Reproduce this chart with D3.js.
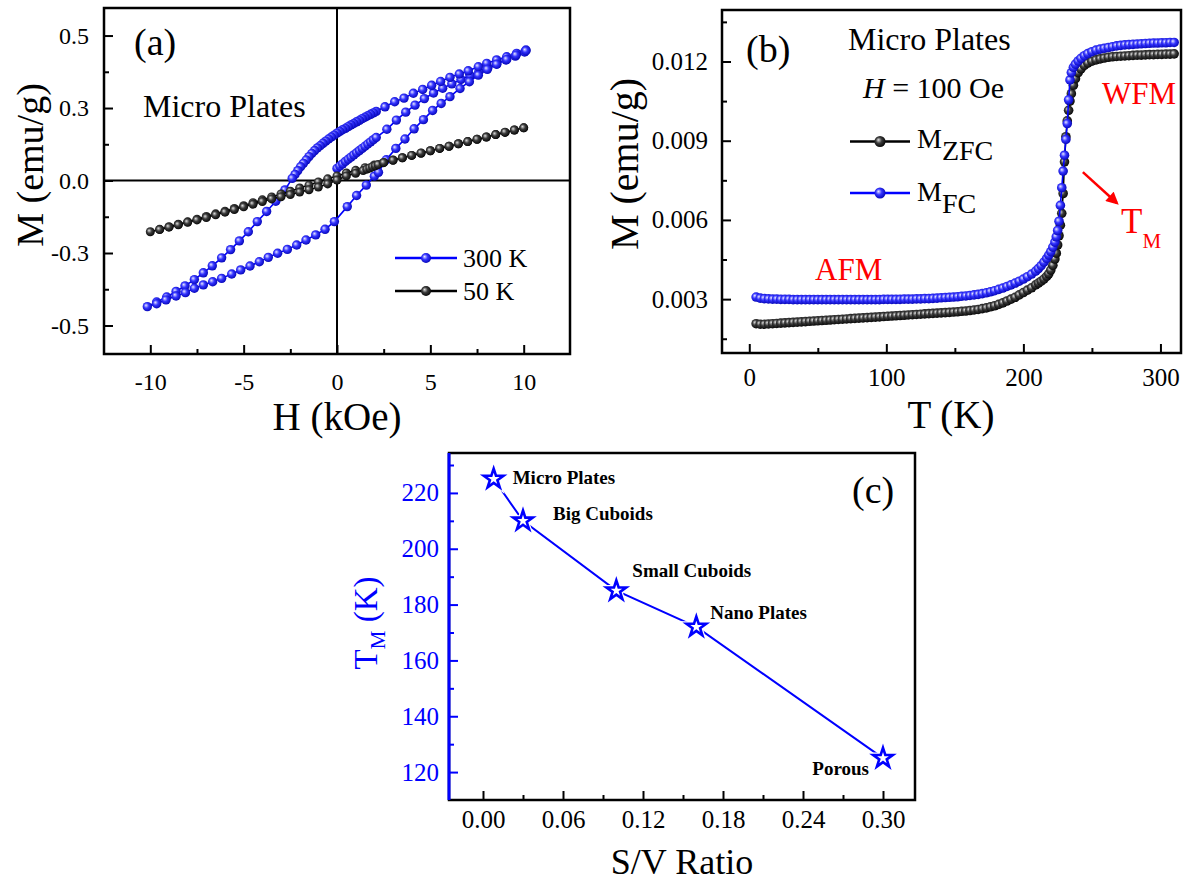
<!DOCTYPE html>
<html>
<head>
<meta charset="utf-8">
<script src="https://d3js.org/d3.v7.min.js"></script>
<style>
  body { margin: 0; background: white; }
  text { font-family: "Liberation Serif", "Times New Roman", serif; }
</style>
</head>
<body>
<div id="fig"></div>
<script>
// ---------- panel (a): M-H loops, micro plates ----------
// 300 K, measured 0 -> +10 kOe, then +10 -> -10, then -10 -> +10   [H kOe, M emu/g]
var loop300Initial = [[0.0,0.050],[0.15,0.060],[0.3,0.069],[0.45,0.079],[0.6,0.088],[0.75,0.097],[0.9,0.106],
  [1.05,0.115],[1.2,0.124],[1.35,0.133],[1.5,0.142],[1.65,0.151],[1.8,0.160],[1.95,0.169],[2.1,0.178],
  [2.67,0.212],[3.18,0.250],[3.68,0.283],[4.18,0.312],[4.68,0.339],[5.17,0.362],[5.66,0.382],[6.15,0.400],
  [6.64,0.418],[7.12,0.435],[7.6,0.451],[8.08,0.467],[8.56,0.483],[9.05,0.499],[9.55,0.515],[10.05,0.532]];
var loop300Down = [[10.12,0.540],[9.62,0.526],[9.09,0.512],[8.55,0.499],[8.02,0.485],[7.57,0.471],[7.03,0.454],
  [6.55,0.441],[6.05,0.427],[5.55,0.410],[5.07,0.394],[4.59,0.377],[4.09,0.361],[3.59,0.341],[3.09,0.326],[2.57,0.305],
  [2.1,0.286],[1.95,0.280],[1.8,0.274],[1.65,0.268],[1.5,0.262],[1.35,0.256],[1.2,0.249],[1.05,0.243],[0.9,0.236],
  [0.75,0.230],[0.6,0.223],[0.45,0.216],[0.3,0.210],[0.15,0.203],[0.0,0.196],[-0.15,0.188],[-0.3,0.180],[-0.45,0.172],
  [-0.6,0.163],[-0.75,0.154],[-0.9,0.144],[-1.05,0.135],[-1.2,0.124],[-1.35,0.112],[-1.5,0.099],[-1.65,0.085],
  [-1.8,0.071],[-1.95,0.057],[-2.1,0.041],[-2.25,0.025],[-2.4,0.009],
  [-2.79,-0.039],[-3.28,-0.086],[-3.77,-0.128],[-4.27,-0.170],[-4.75,-0.212],[-5.23,-0.250],[-5.70,-0.286],
  [-6.18,-0.320],[-6.68,-0.353],[-7.16,-0.382],[-7.64,-0.410],[-8.14,-0.436],[-8.62,-0.459],[-9.12,-0.482],
  [-9.66,-0.503],[-10.16,-0.522]];
var loop300Up = [[-9.66,-0.510],[-9.16,-0.494],[-8.62,-0.478],[-8.12,-0.464],[-7.64,-0.446],[-7.16,-0.432],
  [-6.66,-0.419],[-6.18,-0.405],[-5.64,-0.387],[-5.16,-0.370],[-4.66,-0.354],[-4.16,-0.336],[-3.68,-0.318],
  [-3.18,-0.301],[-2.66,-0.285],[-2.16,-0.267],[-1.66,-0.246],[-1.14,-0.225],[-0.64,-0.202],[-0.14,-0.170],
  [0.55,-0.108],[1.05,-0.062],[1.57,-0.019],[2.0,0.018],[2.22,0.034],[2.64,0.086],[3.15,0.133],[3.64,0.172],
  [4.13,0.214],[4.63,0.252],[5.12,0.290],[5.58,0.319],[6.05,0.347],[6.59,0.381],[7.09,0.409],[7.57,0.436],
  [8.05,0.460],[8.55,0.481],[9.09,0.501],[9.59,0.519],[10.12,0.537]];
// 50 K
var loop50Down = [[10,0.218],[9.5,0.209],[9,0.199],[8.5,0.190],[8,0.180],[7.5,0.171],[7,0.161],[6.5,0.152],[6,0.142],
  [5.5,0.133],[5,0.123],[4.5,0.113],[4,0.104],[3.5,0.094],[3,0.085],[2.5,0.075],[2,0.064],[1.5,0.053],[1,0.042],
  [0.5,0.031],[0,0.019],[-0.5,0.007],[-1,-0.006],[-1.5,-0.019],[-2,-0.031],[-2.5,-0.044],[-3,-0.056],[-3.5,-0.068],
  [-4,-0.080],[-4.5,-0.092],[-5,-0.104],[-5.5,-0.116],[-6,-0.127],[-6.5,-0.138],[-7,-0.149],[-7.5,-0.160],
  [-8,-0.171],[-8.5,-0.181],[-9,-0.191],[-9.5,-0.202],[-10,-0.212]];
var loop50Up = [[-9.5,-0.203],[-9,-0.193],[-8.5,-0.183],[-8,-0.173],[-7.5,-0.163],[-7,-0.153],[-6.5,-0.142],
  [-6,-0.131],[-5.5,-0.120],[-5,-0.109],[-4.5,-0.098],[-4,-0.087],[-3.5,-0.076],[-3,-0.067],[-2.5,-0.058],
  [-2,-0.048],[-1.5,-0.038],[-1,-0.027],[-0.5,-0.014],[0,0.002],[0.5,0.019],[1,0.030],[1.4,0.041],[1.6,0.047],
  [1.75,0.052],[1.9,0.057],[2.05,0.061],[2.2,0.066],[2.5,0.074],[3,0.084],[3.5,0.094],[4,0.104],[4.5,0.114],
  [5,0.123],[5.5,0.133],[6,0.142],[6.5,0.152],[7,0.161],[7.5,0.171],[8,0.180],[8.5,0.190],[9,0.200],[9.5,0.209],[10,0.218]];
var hTicksA = [-10, -5, 0, 5, 10];
var hMinorA = [-7.5, -2.5, 2.5, 7.5];
var mTicksA = [-0.6, -0.3, 0, 0.3, 0.6];
var mTickLabelsA = ["-0.5", "-0.3", "0.0", "0.3", "0.5"];
var mMinorA = [-0.45, -0.15, 0.15, 0.45];

// ---------- panel (b): M-T, H = 100 Oe ----------   [T K, M emu/g]
var zfcData = [[5,.00207],[8,.00205],[11,.00205],[14,.00206],[17,.00207],[20,.00208],[23,.00209],[26,.00210],
  [29,.00211],[32,.00212],[35,.00213],[38,.00214],[41,.00215],[44,.00216],[47,.00217],[50,.00218],[53,.00219],
  [56,.00220],[59,.00221],[62,.00222],[65,.00223],[68,.00224],[71,.00225],[74,.00226],[77,.00227],[80,.00228],
  [83,.00229],[86,.00230],[89,.00231],[92,.00232],[95,.00233],[98,.00234],[101,.00235],[104,.00236],[107,.00237],
  [110,.00238],[113,.00239],[116,.00240],[119,.00241],[122,.00242],[125,.00243],[128,.00244],[131,.00245],
  [134,.00246],[137,.00247],[140,.00248],[143,.00249],[146,.00250],[149,.00251],[152,.00252],[155,.00254],
  [158,.00255],[161,.00257],[164,.00259],[167,.00261],[170,.00264],[173,.00267],[176,.00271],[179,.00275],
  [182,.00280],[185,.00286],[188,.00293],[191,.00300],[194,.00307],[197,.00316],[200,.00325],[203,.00334],
  [206,.00343],[209,.00354],
  [211,.00361],[213,.00368],[215,.00376],[217,.00386],[218.5,.00396],[220,.00410],[221.5,.00428],[223,.00452],
  [224,.00474],[225,.00505],[226,.00540],[227,.00580],[228,.00625],[229,.00700],[230,.00820],[231,.00915],
  [232,.00975],[233,.01015],[234,.01050],[235,.01078],[236.5,.01110],[238,.01135],[240,.01158],[242,.01172],
  [244.5,.01185],[247,.01194],[250,.01201],[253,.01206],
  [256,.01210],[259,.01213],[262,.01216],[265,.01218],[268,.01219],[271,.01220],[274,.01221],[277,.01222],
  [280,.01223],[283,.01224],[286,.01224],[289,.01225],[292,.01226],[295,.01226],[298,.01227],[301,.01227],
  [304,.01228],[307,.01228],[310,.01229]];
var fcData = [[5,.00308],[8,.00304],[11,.00302],[14,.00301],[17,.00300],[20,.00300],[23,.00299],[26,.00299],
  [29,.00299],[32,.00298],[35,.00298],[38,.00298],[41,.00298],[44,.00298],[47,.00298],[50,.00298],[53,.00298],
  [56,.00298],[59,.00298],[62,.00298],[65,.00298],[68,.00298],[71,.00298],[74,.00298],[77,.00298],[80,.00298],
  [83,.00298],[86,.00298],[89,.00298],[92,.00298],[95,.00298],[98,.00299],[101,.00299],[104,.00299],[107,.00299],
  [110,.00299],[113,.00300],[116,.00300],[119,.00300],[122,.00301],[125,.00301],[128,.00302],[131,.00302],
  [134,.00303],[137,.00304],[140,.00305],[143,.00306],[146,.00307],[149,.00308],[152,.00309],[155,.00311],
  [158,.00312],[161,.00314],[164,.00316],[167,.00318],[170,.00321],[173,.00324],[176,.00328],[179,.00332],
  [182,.00337],[185,.00342],[188,.00348],[191,.00354],[194,.00361],[197,.00368],[200,.00376],[203,.00385],
  [206,.00395],[209,.00406],
  [211,.00416],[213,.00427],[215,.00440],[217,.00454],[218.5,.00467],[220,.00480],[221.5,.00497],[223,.00516],
  [224,.00536],[225,.00560],[226,.00595],[227,.00655],[228,.00722],[229,.00785],[230,.00845],[231,.00905],
  [232,.00965],[233,.01055],[234,.01130],[235,.01158],[236.5,.01178],[238,.01190],[240,.01202],[242,.01212],
  [244.5,.01222],[247,.01230],[250,.01237],[253,.01243],
  [256,.01247],[259,.01250],[262,.01253],[265,.01256],[268,.01259],[271,.01261],[274,.01263],[277,.01264],
  [280,.01265],[283,.01266],[286,.01267],[289,.01268],[292,.01269],[295,.01270],[298,.01270],[301,.01271],
  [304,.01271],[307,.01272],[310,.01272]];
var tTicksB = [0, 100, 200, 300];
var tMinorB = [50, 150, 250];
var mTicksB = [0.003, 0.006, 0.009, 0.012];
var mMinorB = [0.0015, 0.0045, 0.0075, 0.0105, 0.0135];

// ---------- panel (c): transition temperature vs S/V ratio ----------
var shapes = ["Micro Plates", "Big Cuboids", "Small Cuboids", "Nano Plates", "Porous"];
var svRatio = [0.008, 0.03, 0.10, 0.16, 0.30];
var transT = [225, 210, 185, 172, 125];
var svTicks = [0, 0.06, 0.12, 0.18, 0.24, 0.30];
var svMinor = [0.03, 0.09, 0.15, 0.21, 0.27];
var tmTicks = [120, 140, 160, 180, 200, 220];
var tmMinor = [130, 150, 170, 190, 210, 230];

// label offsets for panel (c), pixels from each star
var labelShift = [[19, 5, "start"], [30, -1, "start"], [16, -14, "start"], [14, -8, "start"], [-14, 17, "end"]];

var BLUE = "#0000ff", RED = "#ff0000";
var font = '"Liberation Serif", "Times New Roman", serif';
var plain = function(d) { return String(d); };   // hyphen minus, like the original

var svg = d3.select("#fig").append("svg")
    .attr("width", 1184)
    .attr("height", 881)
    .style("display", "block")
    .style("background", "white");

var defs = svg.append("defs");
function ball(id, light, mid, dark) {
  var g = defs.append("radialGradient").attr("id", id)
      .attr("cx", "45%").attr("cy", "45%").attr("r", "60%")
      .attr("fx", "35%").attr("fy", "35%");
  g.append("stop").attr("offset", "0%").attr("stop-color", light);
  g.append("stop").attr("offset", "45%").attr("stop-color", mid);
  g.append("stop").attr("offset", "100%").attr("stop-color", dark);
}
ball("ballBlue", "#e8e8ff", "#3535ff", "#0000b0");
ball("ballBlack", "#e0e0e0", "#3c3c3c", "#000000");

defs.append("marker").attr("id", "arrowRed")
    .attr("viewBox", "0 0 10 10").attr("refX", 8).attr("refY", 5)
    .attr("markerWidth", 5.5).attr("markerHeight", 5).attr("orient", "auto")
  .append("path").attr("d", "M0,0 L10,5 L0,10 z").attr("fill", RED);

// small helpers
function styleAxis(g, size, color) {
  g.select(".domain").remove();
  g.selectAll("line").attr("stroke", color || "black").attr("stroke-width", 2);
  g.selectAll("text").attr("font-family", font).attr("font-size", size).attr("fill", color || "black");
}
function frame(x0, y0, x1, y1) {
  svg.append("rect").attr("x", x0).attr("y", y0).attr("width", x1 - x0).attr("height", y1 - y0)
    .attr("fill", "none").attr("stroke", "black").attr("stroke-width", 2.5);
}
function drawSeries(data, x, y, stroke, fill, r) {
  var line = d3.line().x(function(d) { return x(d[0]); }).y(function(d) { return y(d[1]); });
  svg.append("path").datum(data).attr("d", line)
    .attr("fill", "none").attr("stroke", stroke).attr("stroke-width", 1.6);
  svg.append("g").selectAll("circle").data(data).enter().append("circle")
    .attr("cx", function(d) { return x(d[0]); })
    .attr("cy", function(d) { return y(d[1]); })
    .attr("r", r)
    .attr("fill", fill);
}
function legendItem(x0, x1, yy, stroke, fill, r) {
  svg.append("line").attr("x1", x0).attr("x2", x1).attr("y1", yy).attr("y2", yy)
    .attr("stroke", stroke).attr("stroke-width", 2.5);
  svg.append("circle").attr("cx", (x0 + x1) / 2).attr("cy", yy).attr("r", r).attr("fill", fill);
}

// ================= (a) =================
var xA = d3.scaleLinear().domain([-12.48, 12.48]).range([104, 570]);
var yA = d3.scaleLinear().domain([-0.718, 0.714]).range([354, 8]);

svg.append("g").attr("transform", "translate(0,354)")
    .call(d3.axisBottom(xA).tickValues(hTicksA).tickSize(-9).tickPadding(19).tickFormat(plain))
    .call(styleAxis, 24);
svg.append("g").attr("transform", "translate(0,354)")
    .call(d3.axisBottom(xA).tickValues(hMinorA).tickSize(-5).tickFormat(""))
    .call(styleAxis, 24);
svg.append("g").attr("transform", "translate(104,0)")
    .call(d3.axisLeft(yA).tickValues(mTicksA).tickSize(-9).tickPadding(15)
      .tickFormat(function(d, i) { return mTickLabelsA[i]; }))
    .call(styleAxis, 24);
svg.append("g").attr("transform", "translate(104,0)")
    .call(d3.axisLeft(yA).tickValues(mMinorA).tickSize(-5).tickFormat(""))
    .call(styleAxis, 24);

// zero lines
svg.append("line").attr("x1", xA(0)).attr("x2", xA(0)).attr("y1", 8).attr("y2", 354)
  .attr("stroke", "black").attr("stroke-width", 2);
svg.append("line").attr("x1", 104).attr("x2", 570).attr("y1", yA(0)).attr("y2", yA(0))
  .attr("stroke", "black").attr("stroke-width", 2);

drawSeries(loop300Initial.concat(loop300Down, loop300Up), xA, yA, BLUE, "url(#ballBlue)", 4.7);
drawSeries(loop50Down.concat(loop50Up), xA, yA, "black", "url(#ballBlack)", 4.5);
frame(104, 8, 570, 354);

svg.append("text").attr("x", 134).attr("y", 55).attr("font-size", 38).text("(a)");
svg.append("text").attr("x", 143).attr("y", 117).attr("font-size", 32).text("Micro Plates");

legendItem(395, 457, 258, BLUE, "url(#ballBlue)", 5);
svg.append("text").attr("x", 463).attr("y", 267).attr("font-size", 26).text("300 K");
legendItem(395, 457, 291, "black", "url(#ballBlack)", 5);
svg.append("text").attr("x", 463).attr("y", 300).attr("font-size", 26).text("50 K");

svg.append("text").attr("x", 337).attr("y", 430).attr("text-anchor", "middle")
  .attr("font-size", 39).text("H (kOe)");
svg.append("text").attr("transform", "translate(43,165) rotate(-90)").attr("text-anchor", "middle")
  .attr("font-size", 38).text("M (emu/g)");

// ================= (b) =================
var xB = d3.scaleLinear().domain([-19.9, 315]).range([722, 1181]);
var yB = d3.scaleLinear().domain([0.00096, 0.01395]).range([353, 10]);

svg.append("g").attr("transform", "translate(0,353)")
    .call(d3.axisBottom(xB).tickValues(tTicksB).tickSize(-9).tickPadding(15).tickFormat(plain))
    .call(styleAxis, 25);
svg.append("g").attr("transform", "translate(0,353)")
    .call(d3.axisBottom(xB).tickValues(tMinorB).tickSize(-5).tickFormat(""))
    .call(styleAxis, 25);
svg.append("g").attr("transform", "translate(722,0)")
    .call(d3.axisLeft(yB).tickValues(mTicksB).tickSize(-9).tickPadding(14).tickFormat(d3.format(".3f")))
    .call(styleAxis, 25);
svg.append("g").attr("transform", "translate(722,0)")
    .call(d3.axisLeft(yB).tickValues(mMinorB).tickSize(-5).tickFormat(""))
    .call(styleAxis, 25);

drawSeries(zfcData, xB, yB, "black", "url(#ballBlack)", 4.8);
drawSeries(fcData, xB, yB, BLUE, "url(#ballBlue)", 4.8);
frame(722, 10, 1181, 353);

svg.append("text").attr("x", 746).attr("y", 62).attr("font-size", 38).text("(b)");
svg.append("text").attr("x", 848).attr("y", 50).attr("font-size", 32).text("Micro Plates");
var hTxt = svg.append("text").attr("x", 863).attr("y", 98).attr("font-size", 30);
hTxt.append("tspan").attr("font-style", "italic").text("H");
hTxt.append("tspan").text(" = 100 Oe");

legendItem(850, 910, 141.5, "black", "url(#ballBlack)", 5.5);
var zfcTxt = svg.append("text").attr("x", 917).attr("y", 148).attr("font-size", 28);
zfcTxt.append("tspan").text("M");
zfcTxt.append("tspan").attr("dy", 12).text("ZFC");
legendItem(850, 910, 193, BLUE, "url(#ballBlue)", 5.5);
var fcTxt = svg.append("text").attr("x", 917).attr("y", 201).attr("font-size", 28);
fcTxt.append("tspan").text("M");
fcTxt.append("tspan").attr("dy", 12).text("FC");

svg.append("text").attr("x", 815).attr("y", 280).attr("font-size", 31).attr("fill", RED).text("AFM");
svg.append("text").attr("x", 1102).attr("y", 104).attr("font-size", 31).attr("fill", RED).text("WFM");
svg.append("line")
  .attr("x1", xB(243.4)).attr("y1", yB(0.00781)).attr("x2", xB(268.2)).attr("y2", yB(0.00664))
  .attr("stroke", RED).attr("stroke-width", 2.5).attr("marker-end", "url(#arrowRed)");
var tmTxt = svg.append("text").attr("x", 1121).attr("y", 233).attr("font-size", 35).attr("fill", RED);
tmTxt.append("tspan").text("T");
tmTxt.append("tspan").attr("dy", 15).attr("font-size", 21).text("M");

svg.append("text").attr("x", 951).attr("y", 428).attr("text-anchor", "middle")
  .attr("font-size", 39).text("T (K)");
svg.append("text").attr("transform", "translate(638,164) rotate(-90)").attr("text-anchor", "middle")
  .attr("font-size", 40).text("M (emu/g)");

// ================= (c) =================
var xC = d3.scaleLinear().domain([-0.0255, 0.324]).range([449, 915]);
var yC = d3.scaleLinear().domain([110, 234.3]).range([800, 453]);

frame(449, 453, 915, 800);
svg.append("g").attr("transform", "translate(0,800)")
    .call(d3.axisBottom(xC).tickValues(svTicks).tickSize(-9).tickPadding(10).tickFormat(d3.format(".2f")))
    .call(styleAxis, 25);
svg.append("g").attr("transform", "translate(0,800)")
    .call(d3.axisBottom(xC).tickValues(svMinor).tickSize(-5).tickFormat(""))
    .call(styleAxis, 25);
svg.append("line").attr("x1", 449).attr("x2", 449).attr("y1", 453).attr("y2", 800)
  .attr("stroke", BLUE).attr("stroke-width", 3);
svg.append("g").attr("transform", "translate(449,0)")
    .call(d3.axisLeft(yC).tickValues(tmTicks).tickSize(-9).tickPadding(10).tickFormat(plain))
    .call(styleAxis, 25, BLUE);
svg.append("g").attr("transform", "translate(449,0)")
    .call(d3.axisLeft(yC).tickValues(tmMinor).tickSize(-5).tickFormat(""))
    .call(styleAxis, 25, BLUE);

var pts = shapes.map(function(s, i) { return {name: s, sv: svRatio[i], tm: transT[i], shift: labelShift[i]}; });
svg.append("path").datum(pts)
  .attr("d", d3.line().x(function(d) { return xC(d.sv); }).y(function(d) { return yC(d.tm); }))
  .attr("fill", "none").attr("stroke", BLUE).attr("stroke-width", 2);
var star = d3.symbol().type(d3.symbolStar).size(120);
var starG = svg.append("g").selectAll("g").data(pts).enter().append("g")
  .attr("transform", function(d) { return "translate(" + xC(d.sv) + "," + yC(d.tm) + ")"; });
starG.append("path").attr("d", star).attr("fill", "white").attr("stroke", "white").attr("stroke-width", 5);
starG.append("path").attr("d", star).attr("fill", "white").attr("stroke", BLUE).attr("stroke-width", 2.6)
  .attr("stroke-linejoin", "miter");
starG.append("text")
  .attr("x", function(d) { return d.shift[0]; })
  .attr("y", function(d) { return d.shift[1]; })
  .attr("text-anchor", function(d) { return d.shift[2]; })
  .attr("font-size", 19).attr("font-weight", "bold")
  .text(function(d) { return d.name; });

svg.append("text").attr("x", 852).attr("y", 503).attr("font-size", 38).text("(c)");
svg.append("text").attr("x", 682).attr("y", 874).attr("text-anchor", "middle")
  .attr("font-size", 36).text("S/V Ratio");
var tmY = svg.append("text").attr("transform", "translate(377,623) rotate(-90)")
  .attr("text-anchor", "middle").attr("font-size", 33).attr("fill", BLUE);
tmY.append("tspan").text("T");
tmY.append("tspan").attr("dy", 8).attr("font-size", 21).text("M");
tmY.append("tspan").attr("dy", -8).text(" (K)");
</script>
</body>
</html>
